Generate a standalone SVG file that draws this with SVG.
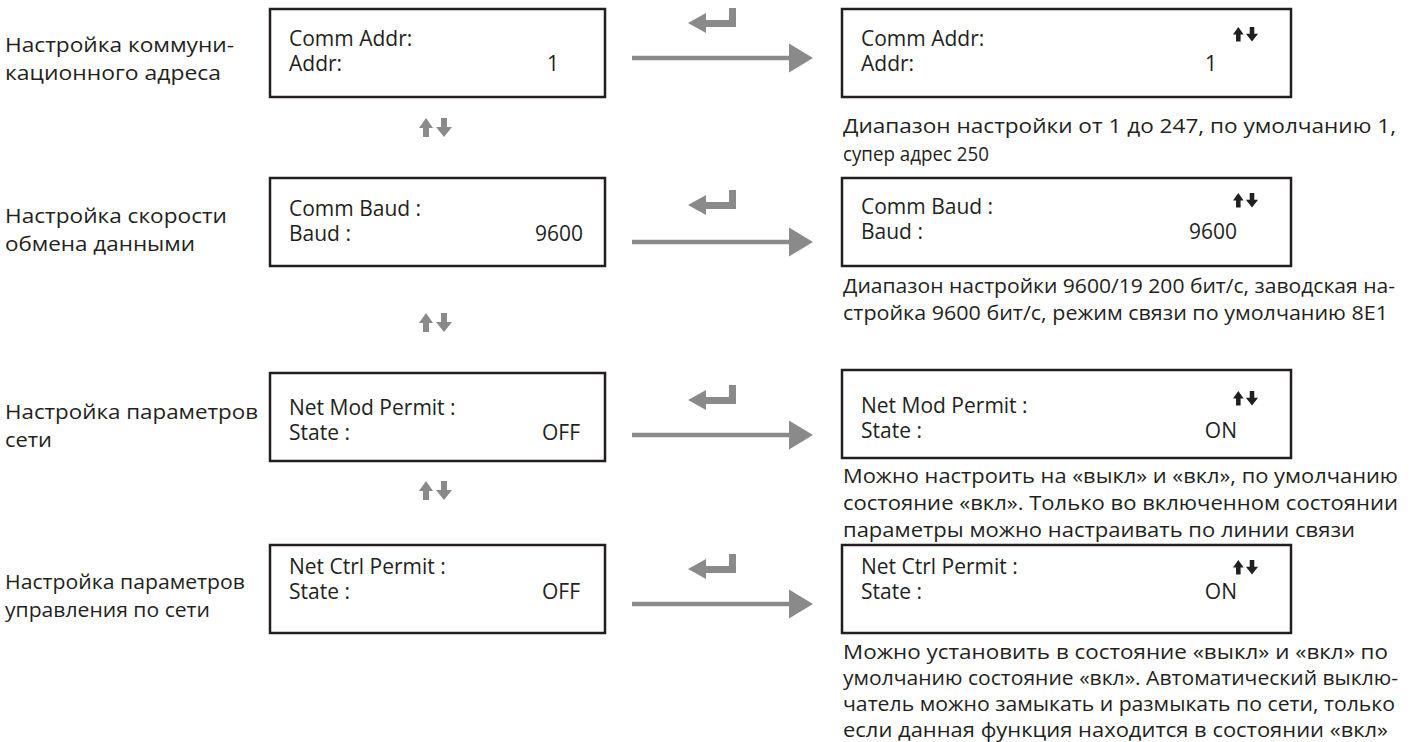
<svg xmlns="http://www.w3.org/2000/svg" width="1418" height="742" viewBox="0 0 1418 742">
<defs>
<style>
.bx{fill:#fff;stroke:#231f20;stroke-width:2.5}
.t{font-family:"Open Sans","Noto Sans",sans-serif;font-size:21px;fill:#231f20}
.lb{font-family:"Open Sans","Noto Sans",sans-serif;font-size:19.5px;fill:#231f20}
.ds{font-family:"Open Sans","Noto Sans",sans-serif;font-size:20px;fill:#231f20}
.g{fill:#8a8a8a}
.k{fill:#231f20}
</style>
<g id="ud">
<path d="M7 0 L14 10 L10 10 L10 19 L4 19 L4 10 L0 10 Z"/>
<path d="M22 0 L28 0 L28 9 L33 9 L25 19 L17 9 L22 9 Z"/>
</g>
<g id="enter">
<path d="M0 15 L18 5 L18 12 L41 12 L41 0 L48 0 L48 19 L18 19 L18 25 Z"/>
</g>
<g id="conn">
<path d="M0 -2.2 L157 -2.2 L157 -14.5 L181 0 L157 14.5 L157 2.2 L0 2.2 Z"/>
</g>
</defs>
<rect width="1418" height="742" fill="#fff"/>

<g id="labels">
<text class="lb" x="5" y="52" textLength="229" lengthAdjust="spacingAndGlyphs">Настройка коммуни-</text>
<text class="lb" x="5" y="80" textLength="216" lengthAdjust="spacingAndGlyphs">кационного адреса</text>
<text class="lb" x="5" y="223" textLength="222" lengthAdjust="spacingAndGlyphs">Настройка скорости</text>
<text class="lb" x="5" y="251" textLength="190" lengthAdjust="spacingAndGlyphs">обмена данными</text>
<text class="lb" x="5" y="419" textLength="253" lengthAdjust="spacingAndGlyphs">Настройка параметров</text>
<text class="lb" x="5" y="447" textLength="47" lengthAdjust="spacingAndGlyphs">сети</text>
<text class="lb" x="5" y="589" textLength="240" lengthAdjust="spacingAndGlyphs">Настройка параметров</text>
<text class="lb" x="5" y="617" textLength="205" lengthAdjust="spacingAndGlyphs">управления по сети</text>
</g>

<g id="connectors">
<use href="#conn" class="g" x="632" y="58"/>
<use href="#conn" class="g" x="632" y="242"/>
<use href="#conn" class="g" x="632" y="435"/>
<use href="#conn" class="g" x="632" y="604"/>
<use href="#enter" class="g" x="688" y="8"/>
<use href="#enter" class="g" x="688" y="190"/>
<use href="#enter" class="g" x="688" y="385"/>
<use href="#enter" class="g" x="688" y="554"/>
<use href="#ud" class="g" x="419" y="118"/>
<use href="#ud" class="g" x="419" y="313"/>
<use href="#ud" class="g" x="419" y="481"/>
</g>

<g id="box-addr-l">
<rect class="bx" x="270" y="9" width="335" height="88"/>
<text class="t" x="289" y="46">Comm Addr:</text>
<text class="t" x="289" y="71">Addr:</text>
<text class="t" x="559" y="71" text-anchor="end">1</text>
</g>
<g id="box-addr-r">
<rect class="bx" x="842" y="9" width="449" height="88"/>
<text class="t" x="861" y="46">Comm Addr:</text>
<text class="t" x="861" y="71">Addr:</text>
<text class="t" x="1217" y="71" text-anchor="end">1</text>
<use href="#ud" class="k" transform="translate(1233,27) scale(0.76)"/>
</g>
<g id="desc-addr">
<text class="ds" x="843" y="133" textLength="553" lengthAdjust="spacingAndGlyphs">Диапазон настройки от 1 до 247, по умолчанию 1,</text>
<text class="ds" x="843" y="161" textLength="146" lengthAdjust="spacingAndGlyphs">супер адрес 250</text>
</g>

<g id="box-baud-l">
<rect class="bx" x="270" y="178" width="335" height="88"/>
<text class="t" x="289" y="216">Comm Baud :</text>
<text class="t" x="289" y="241">Baud :</text>
<text class="t" x="583" y="241" text-anchor="end">9600</text>
</g>
<g id="box-baud-r">
<rect class="bx" x="842" y="178" width="449" height="88"/>
<text class="t" x="861" y="214">Comm Baud :</text>
<text class="t" x="861" y="239">Baud :</text>
<text class="t" x="1237" y="239" text-anchor="end">9600</text>
<use href="#ud" class="k" transform="translate(1233,193) scale(0.76)"/>
</g>
<g id="desc-baud">
<text class="ds" x="843" y="293" textLength="552" lengthAdjust="spacingAndGlyphs">Диапазон настройки 9600/19 200 бит/с, заводская на-</text>
<text class="ds" x="843" y="320" textLength="545" lengthAdjust="spacingAndGlyphs">стройка 9600 бит/с, режим связи по умолчанию 8E1</text>
</g>

<g id="box-mod-l">
<rect class="bx" x="270" y="373" width="335" height="88"/>
<text class="t" x="289" y="415">Net Mod Permit :</text>
<text class="t" x="289" y="440">State :</text>
<text class="t" x="580" y="440" text-anchor="end">OFF</text>
</g>
<g id="box-mod-r">
<rect class="bx" x="842" y="370" width="449" height="88"/>
<text class="t" x="861" y="413">Net Mod Permit :</text>
<text class="t" x="861" y="438">State :</text>
<text class="t" x="1237" y="438" text-anchor="end">ON</text>
<use href="#ud" class="k" transform="translate(1233,391) scale(0.76)"/>
</g>
<g id="desc-mod">
<text class="ds" x="843" y="483" textLength="555" lengthAdjust="spacingAndGlyphs">Можно настроить на «выкл» и «вкл», по умолчанию</text>
<text class="ds" x="843" y="510" textLength="555" lengthAdjust="spacingAndGlyphs">состояние «вкл». Только во включенном состоянии</text>
<text class="ds" x="843" y="537" textLength="512" lengthAdjust="spacingAndGlyphs">параметры можно настраивать по линии связи</text>
</g>

<g id="box-ctrl-l">
<rect class="bx" x="270" y="545" width="335" height="88"/>
<text class="t" x="289" y="574">Net Ctrl Permit :</text>
<text class="t" x="289" y="599">State :</text>
<text class="t" x="580" y="599" text-anchor="end">OFF</text>
</g>
<g id="box-ctrl-r">
<rect class="bx" x="842" y="545" width="449" height="88"/>
<text class="t" x="861" y="574">Net Ctrl Permit :</text>
<text class="t" x="861" y="599">State :</text>
<text class="t" x="1237" y="599" text-anchor="end">ON</text>
<use href="#ud" class="k" transform="translate(1233,560) scale(0.76)"/>
</g>
<g id="desc-ctrl">
<text class="ds" x="843" y="659" textLength="545" lengthAdjust="spacingAndGlyphs">Можно установить в состояние «выкл» и «вкл» по</text>
<text class="ds" x="843" y="685" textLength="555" lengthAdjust="spacingAndGlyphs">умолчанию состояние «вкл». Автоматический выклю-</text>
<text class="ds" x="843" y="711" textLength="552" lengthAdjust="spacingAndGlyphs">чатель можно замыкать и размыкать по сети, только</text>
<text class="ds" x="843" y="737" textLength="545" lengthAdjust="spacingAndGlyphs">если данная функция находится в состоянии «вкл»</text>
</g>
</svg>
